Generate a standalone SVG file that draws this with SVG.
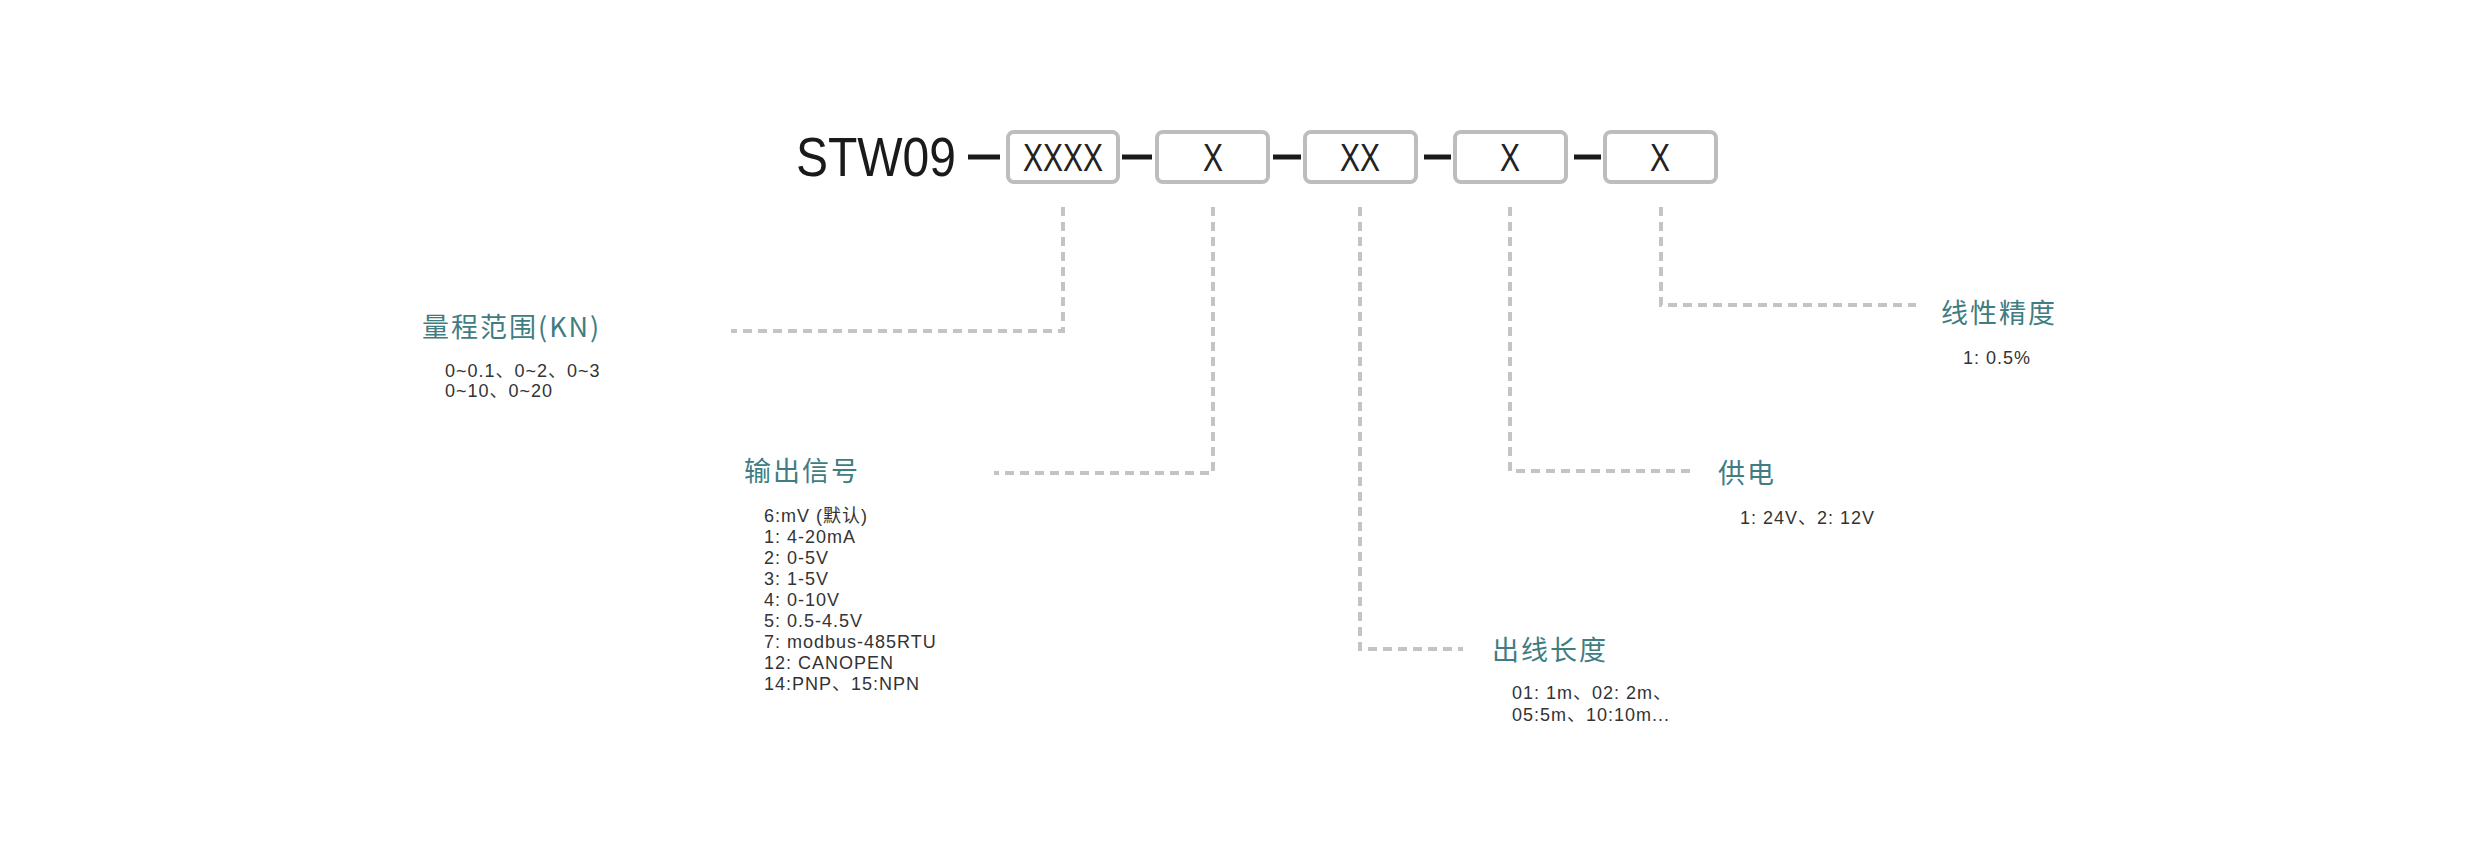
<svg xmlns="http://www.w3.org/2000/svg" width="2481" height="859" viewBox="0 0 2481 859">
<style>
.box{fill:#fff;stroke:#bdbdbd;stroke-width:4}
.bx{font-family:"Liberation Sans",sans-serif;font-size:38px;fill:#222;text-anchor:middle}
.dash{stroke:#1a1a1a;stroke-width:5}
.c{fill:none;stroke:#c4c4c4;stroke-width:4;stroke-dasharray:9 6}
.t{font-family:"Noto Sans CJK SC","Liberation Sans",sans-serif;font-size:27px;fill:#3f7d82;letter-spacing:2px}
.v{font-family:"Liberation Sans","Noto Sans CJK SC",sans-serif;font-size:18px;fill:#333;letter-spacing:1px}
</style>
<rect width="2481" height="859" fill="#fff"/>
<g id="title">
<text x="796" y="176" font-family="Liberation Sans,sans-serif" font-size="56" fill="#1a1a1a" textLength="160" lengthAdjust="spacingAndGlyphs">STW09</text>
<line class="dash" x1="968" y1="157" x2="1000" y2="157"/>
<line class="dash" x1="1122" y1="157" x2="1152" y2="157"/>
<line class="dash" x1="1273" y1="157" x2="1301" y2="157"/>
<line class="dash" x1="1424" y1="157" x2="1451" y2="157"/>
<line class="dash" x1="1574" y1="157" x2="1601" y2="157"/>
</g>
<g id="b1"><rect class="box" x="1008" y="132" width="110" height="50" rx="6"/><text class="bx" x="1063" y="171" textLength="80" lengthAdjust="spacingAndGlyphs">XXXX</text></g>
<g id="b2"><rect class="box" x="1157" y="132" width="111" height="50" rx="6"/><text class="bx" x="1213" y="171" textLength="20" lengthAdjust="spacingAndGlyphs">X</text></g>
<g id="b3"><rect class="box" x="1305" y="132" width="111" height="50" rx="6"/><text class="bx" x="1360" y="171" textLength="40" lengthAdjust="spacingAndGlyphs">XX</text></g>
<g id="b4"><rect class="box" x="1455" y="132" width="111" height="50" rx="6"/><text class="bx" x="1510" y="171" textLength="20" lengthAdjust="spacingAndGlyphs">X</text></g>
<g id="b5"><rect class="box" x="1605" y="132" width="111" height="50" rx="6"/><text class="bx" x="1660" y="171" textLength="20" lengthAdjust="spacingAndGlyphs">X</text></g>
<g id="connectors">
<polyline class="c" points="1063,207 1063,331 731,331"/>
<polyline class="c" points="1213,207 1213,473 994,473"/>
<polyline class="c" points="1360,207 1360,649 1463,649"/>
<polyline class="c" points="1510,207 1510,471 1694,471"/>
<polyline class="c" points="1661,207 1661,305 1916,305"/>
</g>
<g id="range"><text class="t" x="422" y="337">量程范围(KN)</text>
<text class="v" x="445" y="377">0~0.1、0~2、0~3</text><text class="v" x="445" y="397">0~10、0~20</text></g>
<g id="output"><text class="t" x="744" y="481">输出信号</text>
<text class="v" x="764" y="522">6:mV (默认)</text>
<text class="v" x="764" y="543">1: 4-20mA</text>
<text class="v" x="764" y="564">2: 0-5V</text>
<text class="v" x="764" y="585">3: 1-5V</text>
<text class="v" x="764" y="606">4: 0-10V</text>
<text class="v" x="764" y="627">5: 0.5-4.5V</text>
<text class="v" x="764" y="648">7: modbus-485RTU</text>
<text class="v" x="764" y="669">12: CANOPEN</text>
<text class="v" x="764" y="690">14:PNP、15:NPN</text></g>
<g id="cable"><text class="t" x="1492" y="660">出线长度</text>
<text class="v" x="1512" y="699">01: 1m、02: 2m、</text><text class="v" x="1512" y="721">05:5m、10:10m...</text></g>
<g id="power"><text class="t" x="1718" y="483">供电</text>
<text class="v" x="1740" y="524">1: 24V、2: 12V</text></g>
<g id="accuracy"><text class="t" x="1941" y="323">线性精度</text>
<text class="v" x="1963" y="364">1: 0.5%</text></g>
</svg>
